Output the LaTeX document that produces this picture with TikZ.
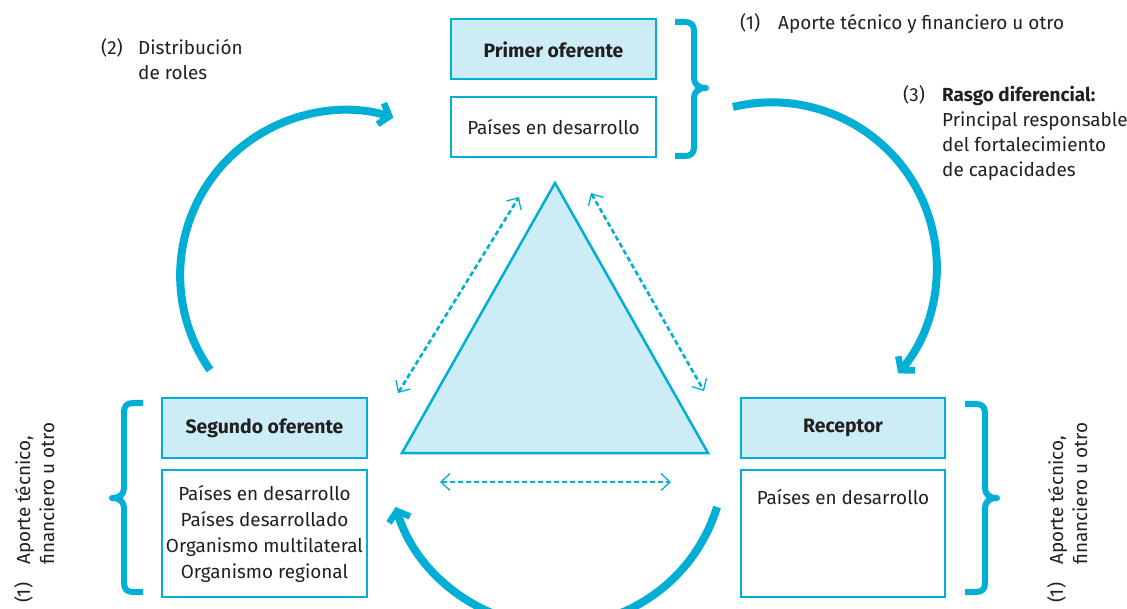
\documentclass[tikz,border=0pt]{standalone}
\usepackage{fontspec}
\setmainfont{Fira Sans}
\usetikzlibrary{arrows.meta}
\definecolor{cy}{HTML}{00AED6}
\definecolor{cyl}{HTML}{CCEDF6}
\definecolor{tx}{HTML}{231F20}
\begin{document}
\begin{tikzpicture}[x=1pt,y=-1pt,
  txt/.style={inner sep=0pt, text=tx, font=\fontsize{18.9}{26}\selectfont},
  hbox/.style={draw=cy, line width=2pt, fill=cyl, minimum width=205pt, minimum height=60pt, inner sep=0pt, text=tx, font=\fontsize{19.4}{26}\selectfont\bfseries},
  lbox/.style={draw=cy, line width=2pt, fill=white, minimum width=205pt, inner sep=0pt, text=tx, align=center, font=\fontsize{18.9}{26}\selectfont},
  bigarc/.style={cy, line width=8pt, -{Straight Barb[length=9pt,width=22pt,line width=6.5pt]}},
  dotarr/.style={cy, line width=2.6pt, dash pattern=on 5pt off 3pt, {Straight Barb[length=9pt,width=17pt,line width=1.3pt]}-{Straight Barb[length=9pt,width=17pt,line width=1.3pt]}},
  bracestyle/.style={cy, line width=6pt, line join=round},
]
\useasboundingbox (0,0) rectangle (1127,609);
\clip (0,0) rectangle (1127,609);

% boxes
\node[hbox] (p1) at (553.5,49.5) {Primer oferente};
\node[lbox, minimum height=60pt] (p2) at (553.5,127) {Países en desarrollo};
\node[hbox] (s1) at (264.5,428) {Segundo oferente};
\node[lbox, minimum height=127pt] (s2) at (264.5,533.5) {Países en desarrollo\\Países desarrollado\\Organismo multilateral\\Organismo regional};
\node[hbox, minimum width=204pt] (r1) at (843,428) {Receptor};
\node[lbox, minimum width=204pt, minimum height=127pt] (r2) at (843,533.5) {};
\node[txt] (r2t) at (843,497) {Países en desarrollo};

% braces
\draw[bracestyle] (675,22) -- (685,22) .. controls (691,22) and (694,25) .. (694,31) -- (694,78) .. controls (694,84) and (698,88) .. (706,88) .. controls (698,88) and (694,92) .. (694,98) -- (694,147) .. controls (694,153) and (691,156) .. (685,156) -- (675,156);
\draw[bracestyle] (965,404) -- (976,404) .. controls (982,404) and (985,407) .. (985,413) -- (985,488) .. controls (985,494) and (989,498) .. (997,498) .. controls (989,498) and (985,502) .. (985,508) -- (985,583) .. controls (985,589) and (982,592) .. (976,592) -- (965,592);
\draw[bracestyle] (143,403) -- (133,403) .. controls (127,403) and (124,406) .. (124,412) -- (124,488) .. controls (124,494) and (120,498) .. (112,498) .. controls (120,498) and (124,502) .. (124,508) -- (124,583) .. controls (124,589) and (127,592) .. (133,592) -- (143,592);

% triangle
\coordinate (tA) at (555,183);
\coordinate (tB) at (402,453);
\coordinate (tC) at (708,453);
\draw[cy, fill=cyl, line width=2.5pt, line join=miter] (tA) -- (tB) -- (tC) -- cycle;

% dotted arrows
\coordinate (dl1) at (398,393);
\coordinate (dl2) at (519,197);
\coordinate (dr1) at (591,193);
\coordinate (dr2) at (704,391);
\coordinate (dh1) at (440,482);
\coordinate (dh2) at (671,482);
\draw[dotarr] (dl1) -- (dl2);
\draw[dotarr] (dr1) -- (dr2);
\draw[dotarr] (dh1) -- (dh2);

% big arcs
\coordinate (a1) at (210,370);
\coordinate (a2) at (733,107);
\coordinate (a3) at (717,507);
\draw[bigarc] (a1) arc[start angle=145, end angle=287, radius=165];
\draw[bigarc] (a2) arc[start angle=256.4, end angle=400, radius=165];
\draw[bigarc] (a3) arc[start angle=17, end angle=163, radius=168];

% top texts
\node[txt, anchor=base west] (n1a) at (740,30) {(1)};
\node[txt, anchor=base west] (n1b) at (778,30) {Aporte técnico y financiero u otro};
\node[txt, anchor=base west] (n2a) at (101,55) {(2)};
\node[txt, anchor=base west] (n2b) at (138,55) {Distribución};
\node[txt, anchor=base west] (n2c) at (138,80) {de roles};
\node[txt, anchor=base west] (n3a) at (903,102) {(3)};
\node[txt, anchor=base west, font=\fontsize{18.9}{26}\selectfont\bfseries] (n3b) at (942,102) {Rasgo diferencial:};
\node[txt, anchor=base west] (n3c) at (942,127) {Principal responsable};
\node[txt, anchor=base west] (n3d) at (942,152) {del fortalecimiento};
\node[txt, anchor=base west] (n3e) at (942,177) {de capacidades};

% rotated texts left
\node[txt, rotate=90, anchor=base west] (l1a) at (30,603) {(1)};
\node[txt, rotate=90, anchor=base west] (l1b) at (30,565) {Aporte técnico,};
\node[txt, rotate=90, anchor=base west] (l1c) at (54,565) {financiero u otro};
% rotated texts right
\node[txt, rotate=90, anchor=base west] (r1a) at (1063,603) {(1)};
\node[txt, rotate=90, anchor=base west] (r1b) at (1063,565) {Aporte técnico,};
\node[txt, rotate=90, anchor=base west] (r1c) at (1087,565) {financiero u otro};
\end{tikzpicture}
\end{document}
